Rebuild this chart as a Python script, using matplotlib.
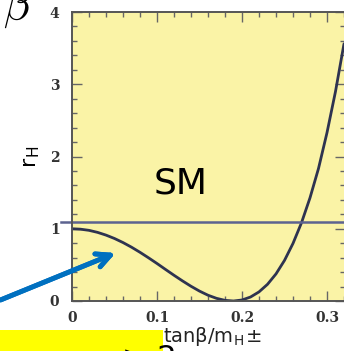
"""
r_H versus tan(beta)/m_H+- with the SM reference line.
"""

import matplotlib.pyplot as plt
import numpy as np

# curve read at steps of 0.01 in tanb/mH
ratio = [0.00, 0.01, 0.02, 0.03, 0.04, 0.05, 0.06, 0.07, 0.08, 0.09,
         0.10, 0.11, 0.12, 0.13, 0.14, 0.15, 0.16, 0.17, 0.18, 0.19,
         0.20, 0.21, 0.22, 0.23, 0.24, 0.25, 0.26, 0.27, 0.28, 0.29,
         0.30, 0.31, 0.32]
r_h = [1.000, 0.994, 0.978, 0.950, 0.912, 0.865, 0.809, 0.745, 0.674, 0.598,
       0.519, 0.437, 0.356, 0.278, 0.204, 0.137, 0.080, 0.037, 0.009, 0.000,
       0.014, 0.055, 0.126, 0.231, 0.375, 0.562, 0.797, 1.083, 1.428, 1.834,
       2.330, 2.900, 3.560]
sm_level = 1.1

x_ticks = [0, 0.1, 0.2, 0.3]
x_ticklabels = ["0", "0.1", "0.2", "0.3"]
y_ticks = [0, 1, 2, 3, 4]
y_ticklabels = ["0", "1", "2", "3", "4"]

W, H = 344, 351
plt.rcParams["mathtext.fontset"] = "cm"
fig = plt.figure(figsize=(W / 100, H / 100), dpi=100)
fig.patch.set_facecolor("white")

ax = fig.add_axes([72 / W, 50 / H, 273 / W, 289 / H])
ax.set_facecolor("#FAF3A6")
ax.plot(ratio, r_h, color="#2E3350", lw=2.0, solid_capstyle="round")
ax.axhline(sm_level, color="#5C6390", lw=1.8, xmin=-0.04, clip_on=False)
ax.text(0.096, 1.86, "SM", fontsize=26, family="DejaVu Sans",
        ha="left", va="top", color="black")

ax.set_xlim(0, 273 / 850)
ax.set_ylim(0, 4)
ax.set_xticks(x_ticks)
ax.set_xticklabels(x_ticklabels)
ax.set_yticks(y_ticks)
ax.set_yticklabels(y_ticklabels)
ax.set_xticks(np.arange(0, 0.33, 0.02), minor=True)
ax.set_yticks(np.arange(0, 4.01, 0.2), minor=True)
ax.tick_params(which="both", direction="in", top=True, right=True,
               color="#666666", width=1.0)
ax.tick_params(which="major", length=7, pad=7)
ax.tick_params(which="minor", length=3.5)
for lab in ax.get_xticklabels() + ax.get_yticklabels():
    lab.set_family("DejaVu Serif")
    lab.set_fontweight("bold")
    lab.set_fontsize(10)
    lab.set_color("#333333")
ax.tick_params(axis="y", pad=9)
for sp in ax.spines.values():
    sp.set_color("#555555")
    sp.set_linewidth(1.4)

# axis titles
fig.text(32 / W, 1 - 157 / H, "r$_\\mathregular{H}$", rotation=90,
         fontsize=16, family="DejaVu Sans", ha="center", va="center")
fig.text(163 / W, 3 / H, "tanβ/m$_\\mathregular{H}$±", fontsize=14,
         family="DejaVu Sans", ha="left", va="bottom", color="#222222")
fig.text(3 / W, 1 - 20 / H, r"$\beta$", fontsize=32, ha="left", va="baseline")

# highlighted formula strip, mostly off the bottom edge
fig.patches.append(plt.Rectangle((0, 0), 163 / W, 21 / H, transform=fig.transFigure,
                                 facecolor="#FFFF00", edgecolor="none"))
fig.text(122 / W, -16 / H, "> 2", fontsize=22, family="DejaVu Sans",
         ha="left", va="baseline", color="black")

# pointer arrow
fig.add_artist(plt.annotate("", xy=(118 / W, 1 - 252 / H), xycoords="figure fraction",
                            xytext=(-2 / W, 1 - 301 / H), textcoords="figure fraction",
                            arrowprops=dict(arrowstyle="->,head_length=1.0,head_width=0.5",
                                            color="#0070C0", lw=3.5)))

fig.savefig("out.png", dpi=100)
